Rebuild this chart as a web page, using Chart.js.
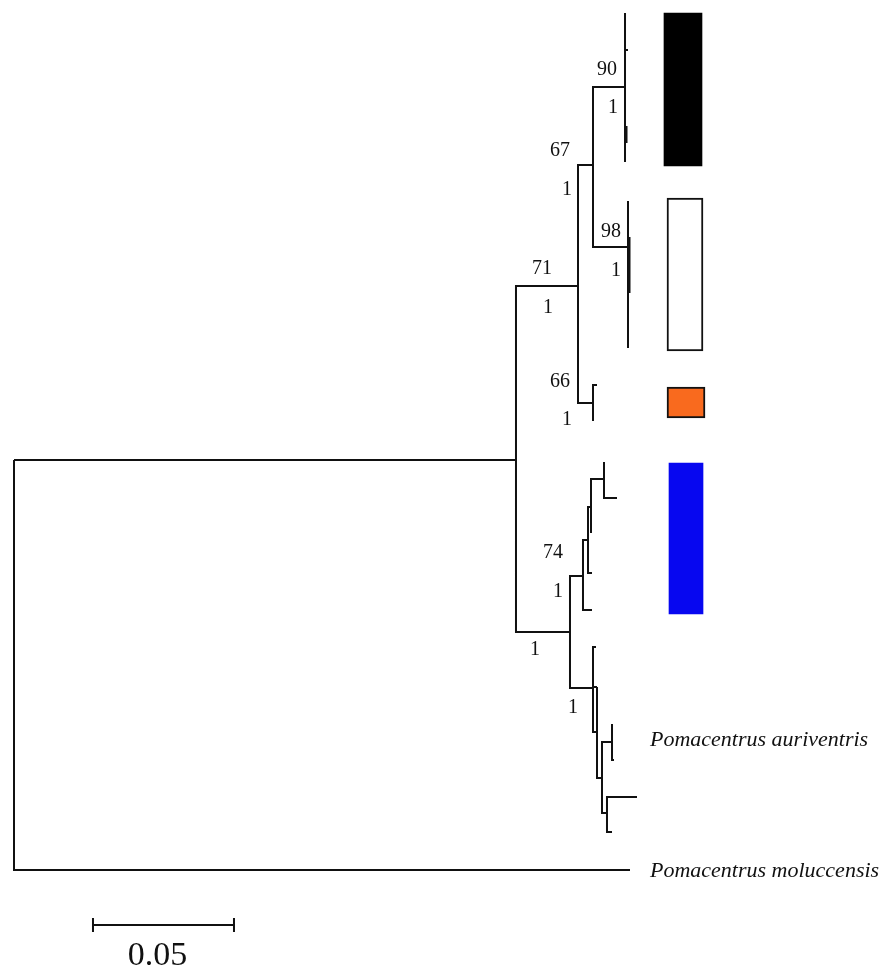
<!DOCTYPE html>
<html><head><meta charset="utf-8">
<script src="https://cdn.jsdelivr.net/npm/chart.js@4.4.1/dist/chart.umd.min.js"></script>
<style>html,body{margin:0;padding:0;background:#fff;}#wrap{width:882px;height:972px;position:relative;}</style>
</head><body><div id="wrap"><canvas id="c"></canvas></div>
<script>
// ---- tree data: node id, parent, depth from root (substitutions/site), vertical row position ----
const nodeIds     = ['root','mol','ing','n71','n67','n90','t1','t2','s90','t3','t4','t5','n98','t6','s98','t7','t8','t9','n66','t10','t11','nb','n74','na','nbb','nc','t12','t13','t14','t15','t16','nd','t17','ne','nf','ng','t18','t19','nh','t20','t21','t22'];
const nodeParents = [null,'root','root','ing','n71','n67','n90','n90','n90','s90','s90','n90','n67','n98','n98','s98','s98','n98','n71','n66','n66','ing','nb','n74','na','nbb','nc','nc','nbb','na','n74','nb','nd','nd','ne','nf','ng','ng','nf','nh','nh','nd'];
const nodeDepths  = [0,0.21844,0.17801,0.20000,0.20532,0.21667,0.21667,0.21773,0.21720,0.21720,0.21720,0.21667,0.21773,0.21773,0.21826,0.21826,0.21826,0.21773,0.20532,0.20674,0.20532,0.19716,0.20177,0.20355,0.20461,0.20922,0.20922,0.21383,0.20461,0.20496,0.20496,0.20532,0.20638,0.20674,0.20851,0.21206,0.21206,0.21277,0.21028,0.22092,0.21206,0.20674];
const nodeRows    = [460,870,460,286,165,87,13,50,134,126,143,162,247,201,265,237,293,348,403,385,421,632,576,540,507,479,462,498,533,573,610,688,647,687,778,742,724,760,813,797,832,732];

// ---- support values (bootstrap / posterior) ----
const supportText  = ['90','1','67','1','98','1','71','1','66','1','74','1','1','1'];
const supportDepth = [0.21028,0.21241,0.19362,0.19610,0.21170,0.21348,0.18723,0.18936,0.19362,0.19610,0.19113,0.19291,0.18475,0.19823];
const supportRow   = [70,108,151,190,232,271,269,308,382,420,553,592,650,708];

// ---- taxon labels ----
const taxonNames = ['Pomacentrus auriventris','Pomacentrus moluccensis'];
const taxonRows  = [740,871];

// ---- clade colour bars ----
const cladeColors = ['#000000','#ffffff','#f96a1e','#0707f0'];
const cladeFrom   = [13,198,387,463];
const cladeTo     = [166,351,418,614];

// ---- scale bar ----
const scaleLength = 0.05;
const scaleLabel = '0.05';

// ---------- build ----------
const idx = {}; nodeIds.forEach((id,i)=>idx[id]=i);
const treePts = [];
nodeIds.forEach((id,i)=>{
  const p = nodeParents[i]; if(!p) return; const j = idx[p];
  treePts.push({x:nodeDepths[j],y:nodeRows[j]},{x:nodeDepths[j],y:nodeRows[i]},{x:nodeDepths[i],y:nodeRows[i]},{x:NaN,y:NaN});
});
const sbStart = 0.02801, sbRow = 925, sbTick = 7;
const scalePts = [
  {x:sbStart,y:sbRow},{x:sbStart+scaleLength,y:sbRow},{x:NaN,y:NaN},
  {x:sbStart,y:sbRow-sbTick},{x:sbStart,y:sbRow+sbTick},{x:NaN,y:NaN},
  {x:sbStart+scaleLength,y:sbRow-sbTick},{x:sbStart+scaleLength,y:sbRow+sbTick}
];
const barCols = [0.23723,0.23794,0.23830,0.23830];
const barWidths = [38,36,38,34];
const barBorders = [0,2,2,0];
const barDatasets = cladeColors.map((c,i)=>({
  type:'bar', data:[{x:barCols[i], y:[cladeFrom[i],cladeTo[i]]}],
  backgroundColor:c, borderColor:'#111', borderWidth:barBorders[i], borderSkipped:false,
  barThickness:barWidths[i], grouped:false
}));

const pxPerUnit = 2820, rootPx = 14, W = 882, H = 972;
const textPlugin = {
  id:'treeText',
  afterDatasetsDraw(chart){
    const {ctx, scales:{x,y}} = chart;
    ctx.save();
    ctx.fillStyle = '#111';
    ctx.textAlign = 'center'; ctx.textBaseline = 'middle';
    ctx.font = '20px "Liberation Serif"';
    supportText.forEach((t,i)=>ctx.fillText(t, x.getPixelForValue(supportDepth[i]), y.getPixelForValue(supportRow[i])));
    ctx.textAlign = 'left';
    ctx.font = 'italic 22px "Liberation Serif"';
    taxonNames.forEach((t,i)=>ctx.fillText(t, x.getPixelForValue(0.22553), y.getPixelForValue(taxonRows[i])));
    ctx.textAlign = 'center';
    ctx.font = '34px "Liberation Serif"';
    ctx.fillText(scaleLabel, x.getPixelForValue(0.05088), y.getPixelForValue(956));
    ctx.restore();
  }
};

new Chart(document.getElementById('c'), {
  type:'scatter',
  data:{datasets:[
    {data:treePts, showLine:true, borderColor:'#111', borderWidth:2, pointRadius:0, spanGaps:false, tension:0, borderCapStyle:'butt', borderJoinStyle:'miter'},
    {data:scalePts, showLine:true, borderColor:'#111', borderWidth:2, pointRadius:0, spanGaps:false, tension:0},
    ...barDatasets
  ]},
  options:{
    responsive:true, maintainAspectRatio:false, animation:false,
    layout:{padding:0},
    plugins:{legend:{display:false}, tooltip:{enabled:false}},
    events:[],
    scales:{
      x:{type:'linear', display:false, offset:false, min:-rootPx/pxPerUnit, max:(W-rootPx)/pxPerUnit},
      y:{type:'linear', display:false, reverse:true, min:0, max:H}
    }
  },
  plugins:[textPlugin]
});
</script>
</body></html>
